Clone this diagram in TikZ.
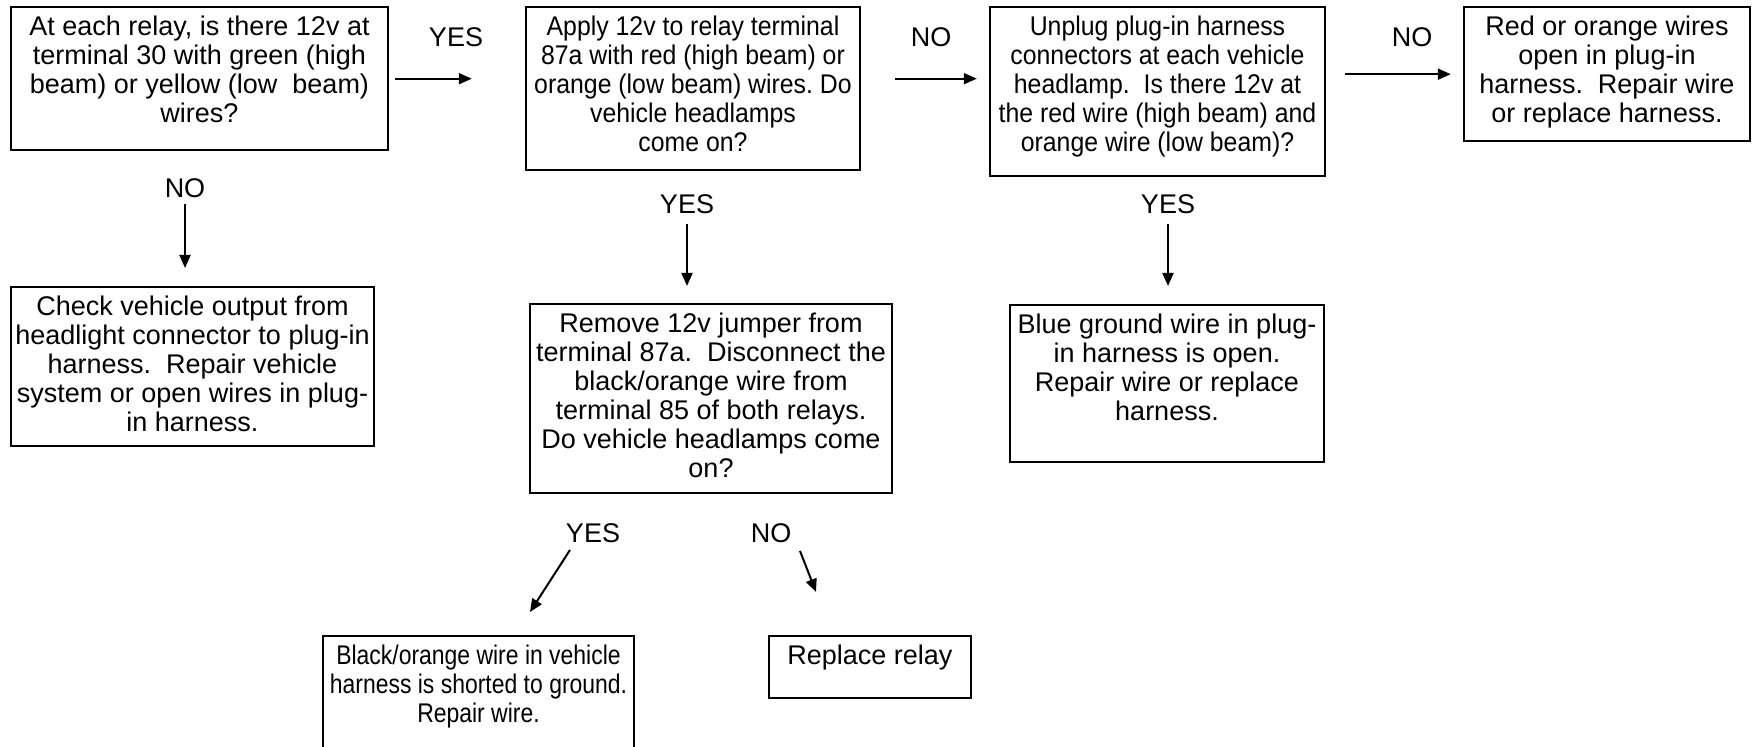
\documentclass[tikz,border=0pt]{standalone}
\usepackage{fontspec}
\setmainfont{Liberation Sans}
\newfontfamily\slimfont{Liberation Sans}[FakeStretch=0.92]
\newfontfamily\narrowfont{Liberation Sans}[FakeStretch=0.85]
\frenchspacing
\usetikzlibrary{arrows.meta}

\tikzset{
  stepbox/.style={draw, line width=1.2pt, align=center, anchor=north, inner xsep=0pt, inner ysep=3pt},
  answer/.style={inner sep=0pt},
  flow/.style={line width=1pt, -{Triangle[length=6.5pt,width=5.5pt]}}
}

\begin{document}
\begin{tikzpicture}[x=0.5pt, y=-0.5pt, font=\fontsize{13.5}{14.5}\selectfont]
\useasboundingbox (0,0) rectangle (1752,747);
\clip (0,0) rectangle (1752,747);

% top row
\node[stepbox, minimum width=188.5pt, text height=54.5pt, text depth=11pt] (relay) at (199.5,6) {At each relay, is there 12v at\\ terminal 30 with green (high\\ beam) or yellow (low~ beam)\\ wires?};
\node[stepbox, minimum width=167pt, text height=69pt, text depth=6.5pt, font=\slimfont\fontsize{13.5}{14.5}\selectfont] (apply) at (693,6) {Apply 12v to relay terminal\\ 87a with red (high beam) or\\ orange (low beam) wires. Do\\ vehicle headlamps\\ come on?};
\node[stepbox, minimum width=167.5pt, text height=69pt, text depth=9.5pt, font=\slimfont\fontsize{13.5}{14.5}\selectfont] (unplug) at (1157.5,6) {Unplug plug-in harness\\ connectors at each vehicle\\ headlamp.~ Is there 12v at\\ the red wire (high beam) and\\ orange wire (low beam)?};
\node[stepbox, minimum width=143pt, text height=54.5pt, text depth=6.5pt] (openwire) at (1607,6) {Red or orange wires\\ open in plug-in\\ harness.~ Repair wire\\ or replace harness.};

% second row
\node[stepbox, minimum width=181.5pt, text height=69pt, text depth=4.5pt] (check) at (192.5,286) {Check vehicle output from\\ headlight connector to plug-in\\ harness.~ Repair vehicle\\ system or open wires in plug-\\ in harness.};
\node[stepbox, minimum width=181pt, text height=83.5pt, text depth=5pt] (remove) at (711,303) {Remove 12v jumper from\\ terminal 87a.~ Disconnect the\\ black/orange wire from\\ terminal 85 of both relays.\\ Do vehicle headlamps come\\ on?};
\node[stepbox, minimum width=157pt, text height=54.5pt, text depth=18pt] (blue) at (1167,304) {Blue ground wire in plug-\\ in harness is open.\\ Repair wire or replace\\ harness.};

% bottom row
\node[stepbox, minimum width=155.5pt, text height=40pt, text depth=29pt, font=\narrowfont\fontsize{13.5}{14.5}\selectfont] (shorted) at (478.5,635) {Black/orange wire in vehicle\\ harness is shorted to ground.\\ Repair wire.};
\node[stepbox, minimum width=101pt, text height=11pt, text depth=14pt] (replace) at (870,635) {Replace relay};

% answers
\node[answer] (yes1) at (456,37) {YES};
\node[answer] (no2) at (931,37) {NO};
\node[answer] (no3) at (1412,37) {NO};
\node[answer] (no1) at (185,188) {NO};
\node[answer] (yes2) at (687,204) {YES};
\node[answer] (yes3) at (1168,204) {YES};
\node[answer] (yes4) at (593,533) {YES};
\node[answer] (no4) at (771,533) {NO};

\coordinate (shortedtip) at (530,612);
\coordinate (replacetip) at (816,592);

% connectors
\draw[flow] ([xshift=3pt]relay.east) -- ([xshift=-26.5pt]relay.east -| apply.west);
\draw[flow] ([xshift=17pt]apply.east |- relay.east) -- ([xshift=-6pt]unplug.west |- relay.east);
\draw[flow] ([xshift=9.5pt]unplug.east |- openwire.west) -- ([xshift=-6pt]openwire.west);
\draw[flow] ([yshift=-3pt]no1.south) -- ([yshift=9pt]no1 |- check.north);
\draw[flow] ([yshift=-5pt]yes2.south) -- ([yshift=8.5pt]yes2 |- remove.north);
\draw[flow] ([yshift=-5pt]yes3.south) -- ([yshift=9pt]yes3 |- blue.north);
\draw[flow] ([xshift=-11.5pt,yshift=-3.5pt]yes4.south) -- (shortedtip);
\draw[flow] ([xshift=14.5pt,yshift=-4pt]no4.south) -- (replacetip);
\end{tikzpicture}
\end{document}
